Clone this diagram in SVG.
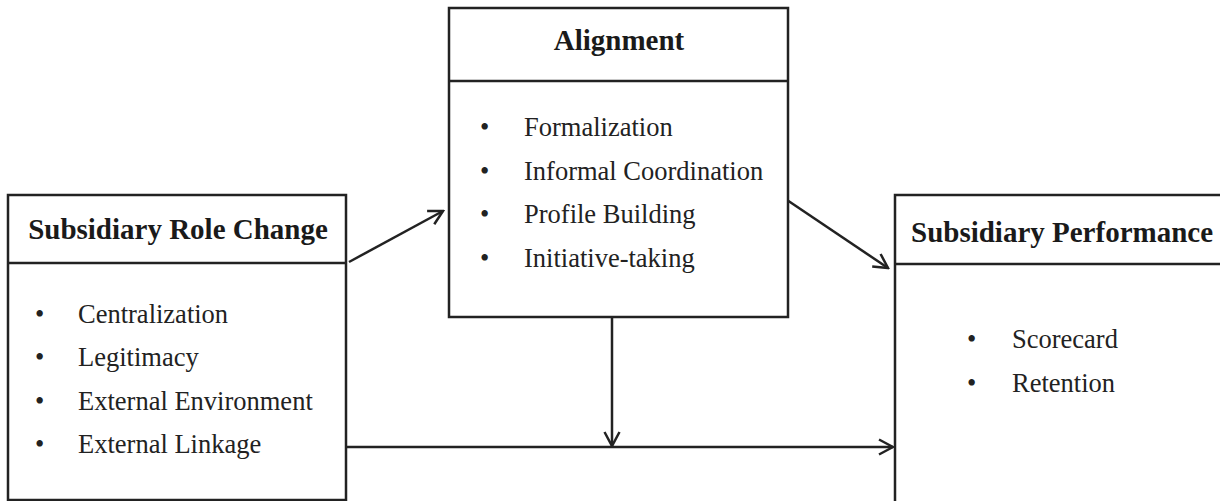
<svg xmlns="http://www.w3.org/2000/svg" width="1220" height="501" viewBox="0 0 1220 501">
<style>
.box{fill:#fff;stroke:#222;stroke-width:2.5}
.div{stroke:#222;stroke-width:2.5}
.title{font-family:"Liberation Serif",serif;font-weight:bold;font-size:29px;fill:#1a1a1a}
.item{font-family:"Liberation Serif",serif;font-size:26.5px;fill:#222}
.con{stroke:#222;stroke-width:2.5;fill:none}
</style>
<defs>
<marker id="arr" viewBox="0 0 18 18" refX="16" refY="9" markerWidth="18" markerHeight="18" markerUnits="userSpaceOnUse" orient="auto">
<path d="M2,1.5 L16,9 L2,16.5" fill="none" stroke="#222" stroke-width="2.5"/>
</marker>
</defs>
<rect width="1220" height="501" fill="#fff"/>
<g id="connectors">
<line class="con" x1="349" y1="262" x2="443" y2="211" marker-end="url(#arr)"/>
<line class="con" x1="787" y1="200" x2="888" y2="268" marker-end="url(#arr)"/>
<line class="con" x1="612" y1="318" x2="612" y2="446" marker-end="url(#arr)"/>
<line class="con" x1="346" y1="447" x2="893" y2="447" marker-end="url(#arr)"/>
</g>
<g id="role-change">
<rect class="box" x="8" y="195" width="338" height="305"/>
<line class="div" x1="8" y1="263" x2="346" y2="263"/>
<text class="title" x="178" y="239" text-anchor="middle">Subsidiary Role Change</text>
<text class="item" x="35" y="323">•</text><text class="item" x="78" y="323">Centralization</text>
<text class="item" x="35" y="366">•</text><text class="item" x="78" y="366">Legitimacy</text>
<text class="item" x="35" y="410">•</text><text class="item" x="78" y="410">External Environment</text>
<text class="item" x="35" y="453">•</text><text class="item" x="78" y="453">External Linkage</text>
</g>
<g id="alignment">
<rect class="box" x="449" y="8" width="339" height="309"/>
<line class="div" x1="449" y1="81" x2="788" y2="81"/>
<text class="title" x="619" y="50" text-anchor="middle">Alignment</text>
<text class="item" x="480" y="136">•</text><text class="item" x="524" y="136">Formalization</text>
<text class="item" x="480" y="180">•</text><text class="item" x="524" y="180">Informal Coordination</text>
<text class="item" x="480" y="223">•</text><text class="item" x="524" y="223">Profile Building</text>
<text class="item" x="480" y="267">•</text><text class="item" x="524" y="267">Initiative-taking</text>
</g>
<g id="performance">
<rect class="box" x="895" y="195" width="340" height="320"/>
<line class="div" x1="895" y1="264" x2="1235" y2="264"/>
<text class="title" x="911" y="242">Subsidiary Performance</text>
<text class="item" x="967" y="348">•</text><text class="item" x="1012" y="348">Scorecard</text>
<text class="item" x="967" y="392">•</text><text class="item" x="1012" y="392">Retention</text>
</g>
</svg>
